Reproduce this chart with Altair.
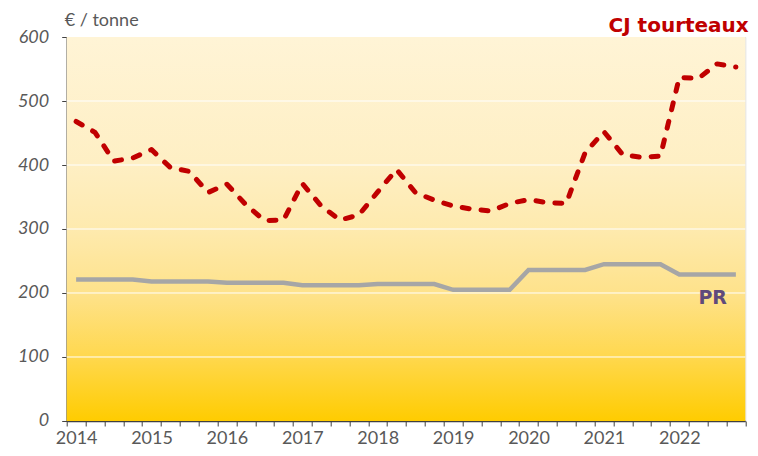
import altair as alt
import pandas as pd

years = [2014, 2015, 2016, 2017, 2018, 2019, 2020, 2021, 2022]
quarter_pos = [i + 0.5 for i in range(len(years) * 4)]

cj_tourteaux = [468, 451, 406, 411,
                424, 396, 390, 357,
                370, 338, 313, 314,
                371, 336, 314, 322,
                358, 393, 357, 345,
                336, 331, 328, 340,
                346, 341, 340, 419,
                452, 416, 412, 414,
                537, 535, 558, 553]

pr = [221, 221, 221, 221,
      218, 218, 218, 218,
      216, 216, 216, 216,
      212, 212, 212, 212,
      214, 214, 214, 214,
      205, 205, 205, 205,
      236, 236, 236, 236,
      245, 245, 245, 245,
      229, 229, 229, 229]

y_ticks = [0, 100, 200, 300, 400, 500, 600]
grid_vals = [100, 200, 300, 400, 500]

df = pd.DataFrame({"pos": quarter_pos, "cj": cj_tourteaux, "pr": pr})
one = pd.DataFrame({"a": [0]})
grid_df = pd.DataFrame({"v": grid_vals})

W, H = 678.6, 384
NQ = len(years) * 4

x_scale = alt.Scale(domain=[0, NQ], nice=False, zero=False)
x_axis = alt.Axis(
    values=list(range(NQ + 1)),
    labelExpr=f"datum.value % 4 == 0 && datum.value < {NQ} ? toString({years[0]} + datum.value / 4) : ''",
    labelOffset=W / NQ / 2, labelAngle=0, labelOverlap=False, labelFlush=False,
    labelAlign="center", grid=False,
    labelFont="Lato", labelFontSize=18, labelColor="#595959", labelPadding=4,
    tickSize=5, tickColor="#404040", domainColor="#404040", domainWidth=1.5,
)
y_scale = alt.Scale(domain=[0, 600], nice=False)
y_axis = alt.Axis(
    values=y_ticks, grid=False, labelFont="Lato", labelFontSize=18,
    labelFontStyle="italic", labelColor="#595959", labelPadding=13, labelFlush=False,
    tickSize=5, tickColor="#404040", domainColor="#404040", domainWidth=1.5,
)

bg = alt.Chart(one).mark_rect(
    fill=alt.LinearGradient(
        gradient="linear", x1=0, x2=0, y1=0, y2=1,
        stops=[
            alt.GradientStop(color="#FFF4D6", offset=0),
            alt.GradientStop(color="#FEEFC4", offset=0.33),
            alt.GradientStop(color="#FEEAAE", offset=0.5),
            alt.GradientStop(color="#FEE28A", offset=0.67),
            alt.GradientStop(color="#FFD84F", offset=0.83),
            alt.GradientStop(color="#FFCC00", offset=1),
        ],
    )
).encode(x=alt.value(0), x2=alt.value(W), y=alt.value(0), y2=alt.value(H))

grid = alt.Chart(grid_df).mark_rule(color="white", strokeWidth=1).encode(
    y=alt.Y("v:Q", scale=y_scale, axis=y_axis, title=None)
)

pr_line = alt.Chart(df).mark_line(color="#A6A6A6", strokeWidth=4.5).encode(
    x=alt.X("pos:Q", scale=x_scale, axis=x_axis, title=None),
    y=alt.Y("pr:Q", scale=y_scale, axis=y_axis, title=None),
)

cj_line = alt.Chart(df).mark_line(
    color="#C00000", strokeWidth=5, strokeDash=[7, 12], strokeCap="round", strokeJoin="round"
).encode(
    x=alt.X("pos:Q", scale=x_scale, axis=x_axis, title=None),
    y=alt.Y("cj:Q", scale=y_scale, axis=y_axis, title=None),
)

unit_txt = alt.Chart(one).mark_text(
    text="€ / tonne", align="left", baseline="middle", font="Lato", fontSize=18, color="#595959"
).encode(x=alt.value(-2), y=alt.value(-16))

cj_txt = alt.Chart(one).mark_text(
    text="CJ tourteaux", align="right", baseline="middle", font="DejaVu Sans",
    fontSize=20, fontWeight="bold", color="#C00000"
).encode(x=alt.value(682), y=alt.value(-11))

pr_txt = alt.Chart(one).mark_text(
    text="PR", align="center", baseline="middle", font="DejaVu Sans",
    fontSize=19, fontWeight="bold", color="#604A7B"
).encode(x=alt.value(646), y=alt.value(261))

chart = alt.layer(bg, grid, pr_line, cj_line, unit_txt, cj_txt, pr_txt).properties(
    width=W, height=H,
    autosize=alt.AutoSizeParams(type="none"),
    padding={"left": 58.7, "top": 29, "right": 4.5, "bottom": 26},
).configure_view(stroke=None).configure(background="white")

chart.save("out.html", embed_options={"renderer": "svg", "actions": False})
